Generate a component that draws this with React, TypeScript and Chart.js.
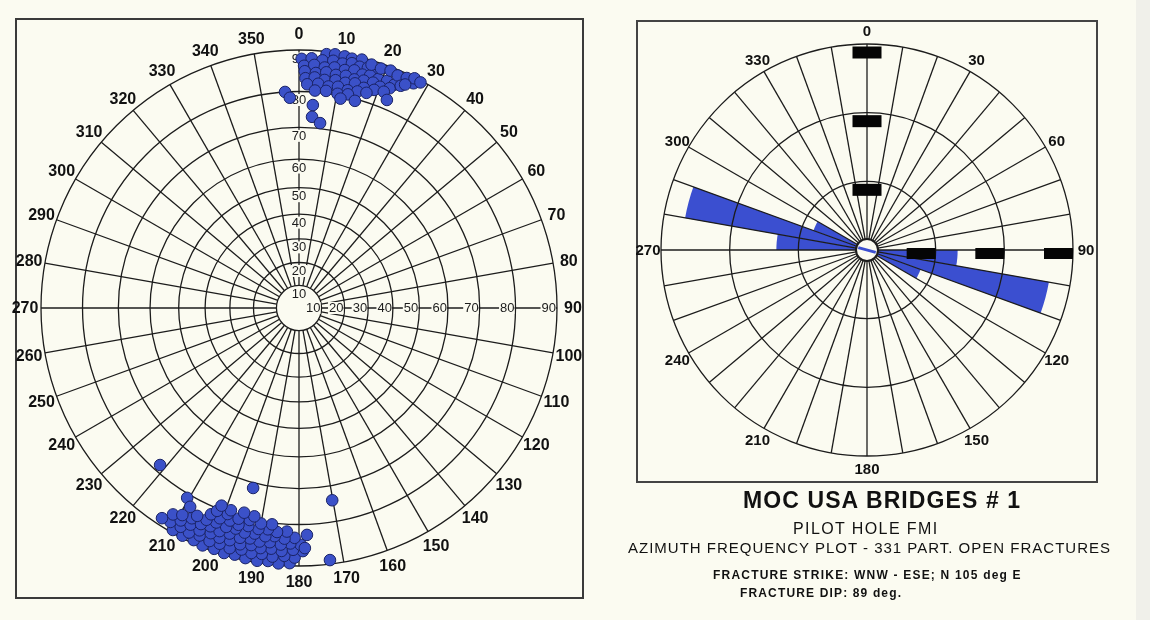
import React, { useEffect, useRef } from "react";
import { Chart, registerables } from "chart.js";

Chart.register(...registerables);

const FONT = '"Liberation Sans", Arial, Helvetica, sans-serif';
const BG = "#fbfbf1";
const INK = "#1c1c1c";

// ---- Left: stereonet (azimuth / dip) ----
const azimuthTicks = [0, 10, 20, 30, 40, 50, 60, 70, 80, 90, 100, 110, 120, 130, 140, 150, 160, 170, 180, 190, 200, 210, 220, 230, 240, 250, 260, 270, 280, 290, 300, 310, 320, 330, 340, 350];
const dipTicks = [10, 20, 30, 40, 50, 60, 70, 80, 90];

const northAz = [
  6.2, 8.1, 10.3, 12.0, 14.2,
  0.6, 2.9, 5.4, 7.9, 10.1, 12.2, 14.1, 16.0, 18.1,
  1.2, 3.6, 6.1, 8.4, 10.9, 13.1, 15.2, 17.0, 19.1, 21.2, 23.1,
  16.6, 18.9, 21.1, 23.0, 25.1, 27.0,
  1.4, 4.1, 6.6, 9.0, 11.4, 13.6, 15.9, 18.2, 20.1, 22.4, 24.6,
  1.6, 3.9, 6.4, 9.1, 11.6, 14.0, 16.4, 19.0, 21.4,
  2.1, 4.9, 7.6, 10.0, 12.6, 15.1, 17.4,
  4.2, 7.1, 10.2, 12.9,
  11.2, 15.1,
  356.3, 357.5, 3.9, 3.9, 6.5, 22.9, 26.7, 25.4, 28.3,
];
const northDip = [
  89.4, 89.6, 89.5, 89.3, 89.6,
  88.0, 88.2, 87.9, 88.1, 87.8, 88.3, 87.9, 88.2, 87.7,
  86.4, 86.7, 86.3, 86.6, 86.4, 86.8, 86.3, 86.6, 86.4, 86.7, 86.5,
  89.1, 88.9, 89.2, 88.8, 89.1, 88.7,
  85.1, 84.8, 85.2, 84.9, 85.1, 84.7, 85.0, 85.2, 84.8, 85.3, 86.9,
  83.4, 83.7, 83.3, 83.6, 83.4, 83.8, 83.3, 83.6, 84.0,
  81.9, 82.2, 81.8, 82.1, 81.7, 82.0, 82.3,
  80.4, 80.6, 80.3, 80.7,
  79.2, 79.5,
  80.0, 78.4, 76.5, 73.2, 71.6, 82.4, 89.8, 87.6, 89.6,
];

const southAz = [
  182.1, 184.6, 187.0, 189.4, 192.1, 194.6, 197.0, 199.4, 202.1, 204.4, 207.1, 209.6,
  181.0, 183.4, 186.1, 188.6, 191.0, 193.4, 196.1, 198.6, 201.0, 203.6, 206.1, 208.4, 211.0, 213.1,
  179.1, 181.4, 184.1, 186.6, 189.1, 191.4, 194.0, 196.6, 199.1, 201.4, 204.1, 206.6, 209.1, 211.4,
  179.6, 182.1, 184.4, 187.1, 189.6, 192.0, 194.4, 197.1, 199.6, 202.1, 204.4, 207.0, 209.4,
  181.1, 183.6, 186.1, 188.4, 191.1, 193.6, 196.0, 198.4, 201.1, 203.6, 206.1,
  183.1, 185.6, 188.0, 190.4, 193.1, 195.6, 198.0, 200.6, 203.1,
  187.1, 190.0, 193.1, 196.0, 199.1, 202.0,
  192.1, 195.0, 198.6, 201.4,
  221.5, 194.3, 170.2, 173.0, 210.5, 208.7, 178.0, 178.6,
];
const southDip = [
  89.4, 89.6, 89.3, 89.6, 89.5, 89.3, 89.6, 89.4, 89.6, 89.3, 89.5, 89.4,
  88.1, 87.8, 88.2, 87.9, 88.1, 87.8, 88.2, 87.9, 88.1, 87.8, 88.2, 87.9, 88.1, 88.4,
  86.6, 86.3, 86.7, 86.4, 86.6, 86.3, 86.7, 86.4, 86.6, 86.3, 86.7, 86.4, 86.6, 86.3,
  85.1, 84.8, 85.2, 84.9, 85.1, 84.8, 85.2, 84.9, 85.1, 84.8, 85.2, 84.9, 85.3,
  83.4, 83.7, 83.3, 83.6, 83.4, 83.7, 83.3, 83.6, 83.4, 83.7, 83.8,
  81.9, 82.2, 81.8, 82.1, 81.9, 82.2, 81.8, 82.1, 82.0,
  80.4, 80.6, 80.3, 80.7, 80.4, 80.6,
  79.1, 78.8, 79.2, 78.9,
  78.2, 71.5, 74.2, 89.1, 81.0, 82.6, 82.7, 85.9,
];

// ---- Right: azimuth rose (percent per 10 deg bin) ----
const roseBins = [
  "0-10", "10-20", "20-30", "30-40", "40-50", "50-60", "60-70", "70-80", "80-90",
  "90-100", "100-110", "110-120", "120-130", "130-140", "140-150", "150-160", "160-170", "170-180",
  "180-190", "190-200", "200-210", "210-220", "220-230", "230-240", "240-250", "250-260", "260-270",
  "270-280", "280-290", "290-300", "300-310", "310-320", "320-330", "330-340", "340-350", "350-360",
];
const roseValues = [
  0, 0, 0, 0, 0, 0, 0, 0, 0,
  13.2, 26.9, 8.3, 0, 0, 0, 0, 0, 0,
  0, 0, 0, 0, 0, 0, 0, 0, 0,
  13.2, 26.9, 8.3, 0, 0, 0, 0, 0, 0,
];
const roseRingTicks = [10, 20, 30];
const roseAngleTicks = [0, 30, 60, 90, 120, 150, 180, 210, 240, 270, 300, 330];
const roseMax = 30;

function stereo(az: number[], dip: number[]) {
  return az.map((a, i) => {
    const r = Math.tan((dip[i] * Math.PI) / 360);
    const t = (a * Math.PI) / 180;
    return { x: r * Math.sin(t), y: r * Math.cos(t) };
  });
}

const stereonetGrid = {
  id: "stereonetGrid",
  beforeDatasetsDraw(chart: any) {
    const ctx = chart.ctx as CanvasRenderingContext2D;
    const xs = chart.scales.x;
    const ys = chart.scales.y;
    const cx = xs.getPixelForValue(0);
    const cy = ys.getPixelForValue(0);
    const R = xs.getPixelForValue(1) - cx;
    const rd = (d: number) => R * Math.tan((d * Math.PI) / 360);
    ctx.save();
    ctx.strokeStyle = INK;
    ctx.lineWidth = 1.3;
    dipTicks.forEach((d) => {
      ctx.beginPath();
      ctx.arc(cx, cy, rd(d), 0, Math.PI * 2);
      ctx.stroke();
    });
    const r0 = rd(dipTicks[0]);
    azimuthTicks.forEach((a) => {
      const t = (a * Math.PI) / 180;
      const s = Math.sin(t);
      const c = Math.cos(t);
      ctx.beginPath();
      ctx.moveTo(cx + r0 * s, cy - r0 * c);
      ctx.lineTo(cx + R * s, cy - R * c);
      ctx.stroke();
    });
    ctx.font = `13px ${FONT}`;
    ctx.textBaseline = "middle";
    dipTicks.forEach((d) => {
      const r = rd(d);
      const txt = String(d);
      const w = ctx.measureText(txt).width;
      const vy = cy - r + 8.5;
      ctx.fillStyle = BG;
      ctx.fillRect(cx - w / 2 - 1, vy - 6, w + 2, 12);
      ctx.fillStyle = INK;
      ctx.textAlign = "center";
      ctx.fillText(txt, cx, vy + 0.5);
      const hx = cx + r - 1;
      ctx.fillStyle = BG;
      ctx.fillRect(hx - w - 1, cy - 6, w + 1, 12);
      ctx.fillStyle = INK;
      ctx.textAlign = "right";
      ctx.fillText(txt, hx, cy + 0.5);
    });
    ctx.font = `bold 16px ${FONT}`;
    ctx.textAlign = "center";
    ctx.fillStyle = "#111";
    azimuthTicks.forEach((a) => {
      const t = (a * Math.PI) / 180;
      const rl = R + 16;
      ctx.fillText(String(a), cx + rl * Math.sin(t), cy - rl * Math.cos(t) + 1);
    });
    ctx.restore();
  },
};

const roseOverlay = {
  id: "roseOverlay",
  afterDatasetsDraw(chart: any) {
    const ctx = chart.ctx as CanvasRenderingContext2D;
    const s = chart.scales.r;
    const cx = s.xCenter;
    const cy = s.yCenter;
    const Rmax = s.getDistanceFromCenterForValue(roseMax);
    const hole = 11;
    const step = 360 / roseBins.length;
    ctx.save();
    ctx.strokeStyle = INK;
    ctx.lineWidth = 1.3;
    roseRingTicks.forEach((v) => {
      ctx.beginPath();
      ctx.arc(cx, cy, s.getDistanceFromCenterForValue(v), 0, Math.PI * 2);
      ctx.stroke();
    });
    for (let i = 0; i < roseBins.length; i++) {
      const p1 = s.getPointPosition(i, hole);
      const p2 = s.getPointPosition(i, Rmax);
      ctx.beginPath();
      ctx.moveTo(p1.x, p1.y);
      ctx.lineTo(p2.x, p2.y);
      ctx.stroke();
    }
    // hub
    ctx.beginPath();
    ctx.arc(cx, cy, hole, 0, Math.PI * 2);
    ctx.fillStyle = BG;
    ctx.fill();
    const mode = roseValues.indexOf(Math.max(...roseValues));
    const pa = s.getPointPosition(mode + 0.5, hole - 2);
    const pb = s.getPointPosition(mode + 0.5 + roseBins.length / 2, hole - 2);
    ctx.strokeStyle = "#3b4fd0";
    ctx.lineWidth = 3;
    ctx.beginPath();
    ctx.moveTo(pa.x, pa.y);
    ctx.lineTo(pb.x, pb.y);
    ctx.stroke();
    ctx.strokeStyle = INK;
    ctx.lineWidth = 2;
    ctx.beginPath();
    ctx.arc(cx, cy, hole, 0, Math.PI * 2);
    ctx.stroke();
    // obscured tick labels (black boxes)
    ctx.fillStyle = "#050505";
    roseRingTicks.forEach((v) => {
      const r = s.getDistanceFromCenterForValue(v);
      ctx.fillRect(cx - 14.5, cy - r + 2.5, 29, 12);
      ctx.fillRect(cx + r - 29, cy - 2, 29, 11);
    });
    // angle labels
    ctx.font = `bold 15px ${FONT}`;
    ctx.textAlign = "center";
    ctx.textBaseline = "middle";
    ctx.fillStyle = "#111";
    roseAngleTicks.forEach((a) => {
      const p = s.getPointPosition(a / step, Rmax + 13);
      ctx.fillText(String(a), p.x, p.y + 1);
    });
    ctx.restore();
  },
};

function StereoChart() {
  const ref = useRef<HTMLCanvasElement>(null);
  useEffect(() => {
    if (!ref.current) return;
    const pointStyle = {
      pointRadius: 5.8,
      pointBackgroundColor: "#3b51c8",
      pointBorderColor: "#1a2366",
      pointBorderWidth: 1,
      showLine: false,
      clip: false as any,
    };
    const chart = new Chart(ref.current, {
      type: "scatter",
      data: {
        datasets: [
          { label: "North set", data: stereo(northAz, northDip), ...pointStyle },
          { label: "South set", data: stereo(southAz, southDip), ...pointStyle },
        ],
      },
      options: {
        responsive: false,
        animation: false,
        layout: { padding: { left: 41, right: 43, top: 50, bottom: 54 } },
        plugins: { legend: { display: false }, tooltip: { enabled: false } },
        scales: {
          x: { type: "linear", min: -1, max: 1, display: false },
          y: { type: "linear", min: -1, max: 1, display: false },
        },
      },
      plugins: [stereonetGrid],
    } as any);
    return () => chart.destroy();
  }, []);
  return <canvas ref={ref} width={600} height={620} style={{ position: "absolute", left: 0, top: 0 }} />;
}

function RoseChart() {
  const ref = useRef<HTMLCanvasElement>(null);
  useEffect(() => {
    if (!ref.current) return;
    const chart = new Chart(ref.current, {
      type: "polarArea",
      data: {
        labels: roseBins,
        datasets: [{ data: roseValues, backgroundColor: "#3b4fd0", borderWidth: 0 }],
      },
      options: {
        responsive: false,
        animation: false,
        startAngle: 0,
        layout: { padding: { left: 61, right: 27, top: 44, bottom: 44 } },
        plugins: { legend: { display: false }, tooltip: { enabled: false } },
        scales: {
          r: {
            min: 0,
            max: roseMax,
            startAngle: 0,
            ticks: { display: false, stepSize: 10 },
            grid: { display: false },
            angleLines: { display: false },
            pointLabels: { display: false },
          },
        },
      },
      plugins: [roseOverlay],
    } as any);
    return () => chart.destroy();
  }, []);
  return <canvas ref={ref} width={500} height={500} style={{ position: "absolute", left: 600, top: 0 }} />;
}

const textBase: React.CSSProperties = {
  position: "absolute",
  whiteSpace: "nowrap",
  lineHeight: 1,
  color: "#111",
  fontFamily: FONT,
};

export default function App() {
  return (
    <div
      style={{
        position: "fixed",
        left: 0,
        top: 0,
        width: 1150,
        height: 620,
        background: BG,
        overflow: "hidden",
        fontFamily: FONT,
      }}
    >
      <div style={{ position: "absolute", left: 1136, top: 0, width: 14, height: 620, background: "#f0f0ea" }} />
      <div
        style={{
          position: "absolute",
          left: 15,
          top: 18,
          width: 569,
          height: 581,
          border: "2px solid #3a3a3a",
          boxSizing: "border-box",
        }}
      />
      <div
        style={{
          position: "absolute",
          left: 636,
          top: 20,
          width: 462,
          height: 463,
          border: "2px solid #444",
          boxSizing: "border-box",
        }}
      />
      <StereoChart />
      <RoseChart />
      <div style={{ ...textBase, left: 743, top: 489, fontSize: 23, fontWeight: 700, letterSpacing: 1.1 }}>
        MOC USA BRIDGES # 1
      </div>
      <div style={{ ...textBase, left: 793, top: 521, fontSize: 16, letterSpacing: 1.4 }}>PILOT HOLE FMI</div>
      <div style={{ ...textBase, left: 628, top: 540, fontSize: 15, letterSpacing: 1 }}>
        AZIMUTH FREQUENCY PLOT - 331 PART. OPEN FRACTURES
      </div>
      <div style={{ ...textBase, left: 713, top: 569, fontSize: 12, fontWeight: 700, letterSpacing: 1.2 }}>
        FRACTURE STRIKE: WNW - ESE; N 105 deg E
      </div>
      <div style={{ ...textBase, left: 740, top: 587, fontSize: 12, fontWeight: 700, letterSpacing: 1.15 }}>
        FRACTURE DIP: 89 deg.
      </div>
    </div>
  );
}
